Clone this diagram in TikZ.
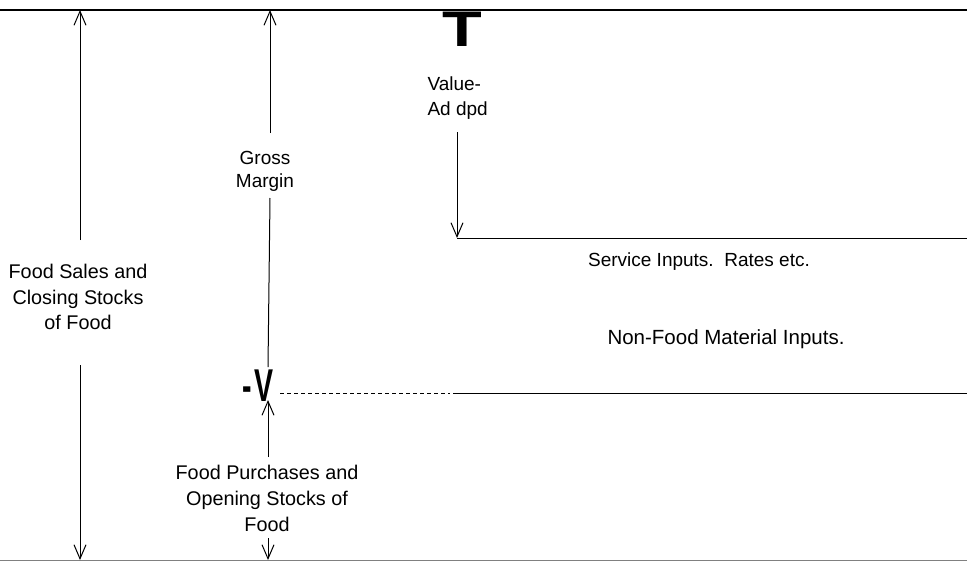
\documentclass[tikz,border=0pt]{standalone}
\usepackage{fontspec}
\setmainfont{Liberation Sans}
\usetikzlibrary{arrows.meta}
\begin{document}
\begin{tikzpicture}[x=1pt,y=-1pt,
  line width=1pt,
  lbl/.style={align=center,font=\fontsize{19}{25}\selectfont,inner sep=0pt},
  flow/.style={-{Straight Barb[length=14pt,width=12pt,line width=1pt]}},
  rule/.style={line width=1.4pt},
]
\useasboundingbox (0,0) rectangle (967,562);
% frame lines
\coordinate (TL) at (0,10); \coordinate (TR) at (967,10);
\coordinate (BL) at (0,560); \coordinate (BR) at (967,560);
\draw[rule] (TL) -- (TR);
\draw[gray,line width=1pt] (BL) -- (BR);

% left: food sales
\node[lbl,font=\fontsize{19.8}{25.5}\selectfont] (fs) at (78,297) {Food Sales and\\Closing Stocks\\of Food};
\coordinate (fsA) at (80,240); \coordinate (fsT) at (80,10);
\coordinate (fsB) at (80,365); \coordinate (fsE) at (80,560);
\draw[flow] (fsA) -- (fsT);
\draw[flow] (fsB) -- (fsE);

% gross margin
\node[lbl,font=\fontsize{19}{23}\selectfont] (gm) at (265,171) {Gross\\Margin};
\coordinate (gmA) at (270,133); \coordinate (gmT) at (270,10);
\coordinate (gmB) at (270,198); \coordinate (gmE) at (268,367);
\draw[flow] (gmA) -- (gmT);
\draw (gmB) -- (gmE);
\node[inner sep=0pt,anchor=base east] (v) at (274,401) {\scalebox{0.62}[1]{\fontsize{46}{46}\selectfont\bfseries -\hspace{4pt}V}};

% food purchases
\node[lbl,font=\fontsize{19.8}{26}\selectfont] (fp) at (267,498) {Food Purchases and\\Opening Stocks of\\Food};
\coordinate (fpA) at (268,457); \coordinate (fpT) at (268,400);
\coordinate (fpB) at (268,538); \coordinate (fpE) at (268,560);
\draw[flow] (fpA) -- (fpT);
\draw[flow] (fpB) -- (fpE);

% value added
\node[inner sep=0pt,anchor=base] (t) at (462,46) {\scalebox{1.3}[1]{\fontsize{50}{50}\selectfont\bfseries T}};
\node[lbl,anchor=north west,align=left,font=\fontsize{19}{25}\selectfont] (va) at (427,76) {Value-\\Ad dpd};
\coordinate (vaA) at (457,132); \coordinate (vaE) at (457,238);
\coordinate (siR) at (967,238);
\draw[flow] (vaA) -- (vaE);
\draw (vaE) -- (siR);
\node[lbl] (si) at (699,262) {Service Inputs.\ \ Rates etc.};

% non-food material inputs
\node[lbl,font=\fontsize{20.5}{25}\selectfont] (nf) at (726,339) {Non-Food Material Inputs.};
\coordinate (nfA) at (280,393); \coordinate (nfB) at (450,393);
\coordinate (nfC) at (453,393); \coordinate (nfR) at (967,393);
\draw[dash pattern=on 4pt off 3pt] (nfA) -- (nfB);
\draw (nfC) -- (nfR);
\end{tikzpicture}
\end{document}
